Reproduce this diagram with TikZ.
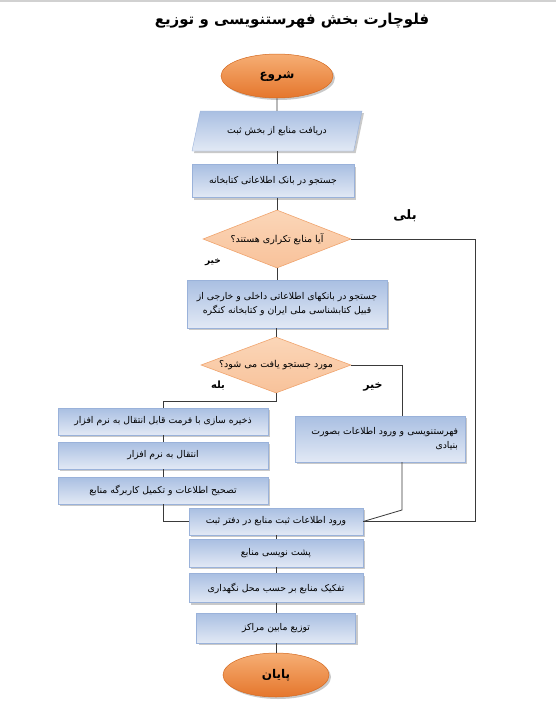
\documentclass[tikz,border=0pt]{standalone}
\usepackage{fontspec}
\usetikzlibrary{shapes.geometric,shadows,calc}
\TeXXeTstate=1
\newfontfamily\fa[Script=Arabic]{DejaVu Sans}
\newcommand\fatext[1]{\beginR #1\endR}
\definecolor{lineclr}{HTML}{3A3A3A}
\definecolor{bluetop}{HTML}{A9BFE2}
\definecolor{bluebot}{HTML}{E2E9F5}
\definecolor{blueedge}{HTML}{9AB2DA}
\definecolor{orgtop}{HTML}{F6AE74}
\definecolor{orgbot}{HTML}{E5762C}
\definecolor{orgedge}{HTML}{D5691F}
\definecolor{peachtop}{HTML}{FBD6B8}
\definecolor{peachbot}{HTML}{F8C29A}
\definecolor{peachedge}{HTML}{F0A46E}
\begin{document}
\begin{tikzpicture}[x=1pt,y=-1pt,
  conn/.style={draw=lineclr, line width=0.8pt},
  shad/.style={drop shadow={shadow xshift=2pt,shadow yshift=-2pt,opacity=0.35,fill=black!60}},
  bbox/.style={rectangle, draw=blueedge, line width=0.4pt, top color=bluetop, bottom color=bluebot, shad, inner sep=2pt, font=\fa\fontsize{9.3}{14}\selectfont, text=black},
  para/.style={trapezium, trapezium left angle=58, trapezium right angle=122, trapezium stretches body, draw=blueedge, line width=0.4pt, top color=bluetop, bottom color=bluebot, shad, inner sep=2pt, font=\fa\fontsize{9.3}{14}\selectfont},
  oval/.style={ellipse, draw=orgedge, line width=0.5pt, top color=orgtop, bottom color=orgbot, shad, inner sep=0pt, font=\fa\bfseries\fontsize{12}{14}\selectfont},
  decision/.style={diamond, draw=peachedge, line width=0.6pt, top color=peachtop, bottom color=peachbot, inner sep=0pt},
  dtext/.style={font=\fa\fontsize{9.5}{12}\selectfont, inner sep=0pt},
  lbl/.style={font=\fa\bfseries\fontsize{10}{12}\selectfont}
]
\useasboundingbox (0,0) rectangle (556,704);
\fill[white] (0,0) rectangle (556,704);
\draw[black!18, line width=2pt] (0,1) -- (556,1);

\node[font=\fa\bfseries\fontsize{15}{18}\selectfont] (title) at (292,21) {\fatext{فلوچارت بخش فهرستنویسی و توزیع}};

\node[oval, minimum width=112pt, minimum height=44pt] (start) at (277,76) {\fatext{شروع}};
\node[para, minimum width=170pt, minimum height=40pt] (recv) at (277,131) {\fatext{دریافت منابع از بخش ثبت}};
\node[bbox, minimum width=162pt, minimum height=33pt] (srch) at (273,181) {\fatext{جستجو در بانک اطلاعاتی کتابخانه}};
\node[decision, minimum width=148pt, minimum height=58pt] (dup) at (277,239) {};
\node[dtext] (duptxt) at (dup.center) {\fatext{آیا منابع تکراری هستند؟}};
\node[bbox, minimum width=200pt, minimum height=48pt, align=center] (ext) at (287,304) {\fatext{جستجو در بانکهای اطلاعاتی داخلی و خارجی از}\\\fatext{قبیل کتابشناسی ملی ایران و کتابخانه کنگره}};
\node[decision, minimum width=150pt, minimum height=56pt] (found) at (276,365) {};
\node[dtext] (foundtxt) at (found.center) {\fatext{مورد جستجو یافت می شود؟}};

\node[bbox, minimum width=210pt, minimum height=27pt] (save) at (163,421.5) {\fatext{ذخیره سازی با فرمت قابل انتقال به نرم افزار}};
\node[bbox, minimum width=210pt, minimum height=27pt] (xfer) at (163,455.5) {\fatext{انتقال به نرم افزار}};
\node[bbox, minimum width=210pt, minimum height=27pt] (fix) at (163,490.5) {\fatext{تصحیح اطلاعات و تکمیل کاربرگه منابع}};

\node[bbox, minimum width=170pt, minimum height=46pt, align=right, text width=156pt] (orig) at (380,439) {\fatext{فهرستنویسی و ورود اطلاعات بصورت}\\\fatext{بنیادی}};

\node[bbox, minimum width=174pt, minimum height=27pt] (reg) at (276,521.5) {\fatext{ورود اطلاعات ثبت منابع در دفتر ثبت}};
\node[bbox, minimum width=174pt, minimum height=28pt] (back) at (276,553) {\fatext{پشت نویسی منابع}};
\node[bbox, minimum width=174pt, minimum height=29pt] (sort) at (276,588) {\fatext{تفکیک منابع بر حسب محل نگهداری}};
\node[bbox, minimum width=159pt, minimum height=30pt] (dist) at (276,628) {\fatext{توزیع مابین مراکز}};
\node[oval, minimum width=106pt, minimum height=44pt] (finish) at (276,675) {\fatext{پایان}};

\node[lbl, font=\fa\bfseries\fontsize{13}{14}\selectfont] (yes1) at (405,216) {\fatext{بلی}};
\node[lbl, font=\fa\bfseries\fontsize{9}{12}\selectfont] (no1) at (213,262) {\fatext{خیر}};
\node[lbl] (yes2) at (218,386) {\fatext{بله}};
\node[lbl, font=\fa\bfseries\fontsize{11}{12}\selectfont] (no2) at (373,387) {\fatext{خیر}};

\coordinate (j1) at (276,401);
\coordinate (rcol) at (402,365);
\coordinate (rbend) at (402,510);
\coordinate (ocol) at (475,239);

\draw[conn] (start.south) -- (recv.north);
\draw[conn] (recv.south) -- (recv.south |- srch.north);
\draw[conn] (dup.north |- srch.south) -- (dup.north);
\draw[conn] (dup.south) -- (dup.south |- ext.north);
\draw[conn] (found.north |- ext.south) -- (found.north);
\draw[conn] (found.south) -- (j1) -| (save.north);
\draw[conn] (save) -- (xfer);
\draw[conn] (xfer) -- (fix);
\draw[conn] (fix.south) |- (reg.west);
\draw[conn] (found.east) -- (rcol) -- (rcol |- orig.north);
\draw[conn] (rcol |- orig.south) -- (rbend) -- (reg.east);
\draw[conn] (dup.east) -- (ocol) -- (ocol |- reg.east) -- (reg.east);
\draw[conn] (reg) -- (back);
\draw[conn] (back) -- (sort);
\draw[conn] (sort) -- (dist);
\draw[conn] (dist) -- (finish);
\end{tikzpicture}
\end{document}
